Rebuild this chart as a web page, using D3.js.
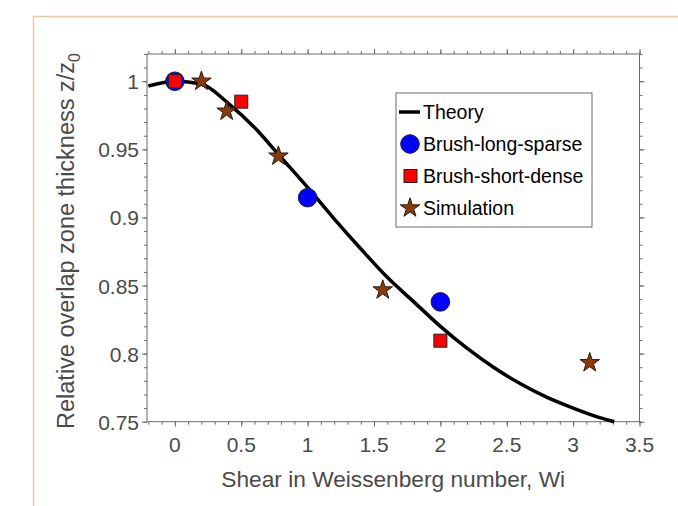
<html>

<head>
    <script src="https://d3js.org/d3.v7.min.js"></script>
    <style>
        body {
            margin: 0;
            background: white;
        }
        text {
            font-family: "Liberation Sans", Arial, Helvetica, sans-serif;
        }
    </style>
</head>

<body>
    <div id="graph-container"></div>

    <script>
        //////////////////////////////////////////DATA//////////////////////////////////////////
        //theory curve
        const theoryWi = [-0.2, 0, 0.2, 0.4, 0.6, 0.8, 1.0, 1.2, 1.4, 1.6, 1.8, 2.0, 2.2, 2.4, 2.6, 2.8, 3.0, 3.2, 3.31];
        const theoryZ = [0.9965, 1.0, 0.998, 0.984, 0.966, 0.944, 0.922, 0.899, 0.877, 0.856, 0.838, 0.820, 0.804, 0.790, 0.778, 0.768, 0.760, 0.753, 0.750];

        const longSparseWi = [0, 1, 2];
        const longSparseZ = [1.0, 0.9145, 0.838];

        const shortDenseWi = [0, 0.5, 2];
        const shortDenseZ = [1.0, 0.985, 0.8095];

        const simWi = [0.2, 0.39, 0.78, 1.566, 3.125];
        const simZ = [1.0, 0.978, 0.945, 0.8467, 0.7933];

        const legendLabels = ["Theory", "Brush-long-sparse", "Brush-short-dense", "Simulation"];

        const xTicks = [0, 0.5, 1, 1.5, 2, 2.5, 3, 3.5];
        const yTicks = [0.75, 0.8, 0.85, 0.9, 0.95, 1];

        //////////////////////////////////////////GRAPH VARIABLES//////////////////////////////////////////
        const width = 678;
        const height = 506;
        const frame = { left: 147, right: 639.5, top: 54, bottom: 421.7 };
        const frameColor = "#6b6b6b";
        const labelColor = "#4a4a4a";

        const svg = d3.select("#graph-container").append("svg")
            .attr("width", width)
            .attr("height", height);

        const x = d3.scaleLinear().domain([-0.21, 3.5]).range([frame.left, frame.right]);
        const y = d3.scaleLinear().domain([0.75, 1.02]).range([frame.bottom, frame.top]);

        //orange border around the figure
        svg.append("path")
            .attr("d", "M33.5," + height + " L33.5,16.5 L" + width + ",16.5")
            .attr("fill", "none")
            .attr("stroke", "#f3c2a6")
            .attr("stroke-width", 1.5);

        //////////////////////////////////////////AXES//////////////////////////////////////////
        const minorX = d3.range(-2, 36).map(d => d / 10).filter(d => x(d) >= frame.left - 0.5);
        const minorY = d3.range(75, 103).map(d => d / 100);

        const axes = [
            { axis: d3.axisBottom(x), pos: "translate(0," + frame.bottom + ")" },
            { axis: d3.axisTop(x), pos: "translate(0," + frame.top + ")" },
            { axis: d3.axisLeft(y), pos: "translate(" + frame.left + ",0)" },
            { axis: d3.axisRight(y), pos: "translate(" + frame.right + ",0)" }
        ];

        axes.forEach((a, i) => {
            const isX = i < 2;
            //minor ticks
            svg.append("g")
                .attr("transform", a.pos)
                .call(a.axis.tickValues(isX ? minorX : minorY).tickSize(3).tickSizeOuter(0).tickFormat(""))
                .call(g => g.select(".domain").remove())
                .selectAll("line").attr("stroke", frameColor);
            //major ticks
            svg.append("g")
                .attr("transform", a.pos)
                .call(a.axis.tickValues(isX ? xTicks : yTicks).tickSize(5).tickSizeOuter(0).tickFormat(""))
                .call(g => g.select(".domain").remove())
                .selectAll("line").attr("stroke", frameColor);
        });

        //frame
        svg.append("rect")
            .attr("x", frame.left)
            .attr("y", frame.top)
            .attr("width", frame.right - frame.left)
            .attr("height", frame.bottom - frame.top)
            .attr("fill", "none")
            .attr("stroke", frameColor)
            .attr("stroke-width", 1);

        //tick labels
        svg.selectAll("text.xtick").data(xTicks)
            .join("text")
            .attr("class", "xtick")
            .attr("x", d => x(d))
            .attr("y", frame.bottom + 30)
            .attr("text-anchor", "middle")
            .attr("fill", labelColor)
            .style("font-size", "21px")
            .text(d => d);

        svg.selectAll("text.ytick").data(yTicks)
            .join("text")
            .attr("class", "ytick")
            .attr("x", frame.left - 8)
            .attr("y", d => y(d) + 8)
            .attr("text-anchor", "end")
            .attr("fill", labelColor)
            .style("font-size", "21px")
            .text(d => d);

        //axis titles
        svg.append("text")
            .attr("x", (frame.left + frame.right) / 2)
            .attr("y", 487)
            .attr("text-anchor", "middle")
            .attr("fill", labelColor)
            .style("font-size", "22.7px")
            .text("Shear in Weissenberg number, Wi");

        const yTitle = svg.append("text")
            .attr("transform", "translate(74," + 241 + ") rotate(-90)")
            .attr("text-anchor", "middle")
            .attr("fill", labelColor)
            .style("font-size", "23.5px");
        yTitle.append("tspan").text("Relative overlap zone thickness z/z");
        yTitle.append("tspan").attr("dy", 6).style("font-size", "16px").text("0");

        //////////////////////////////////////////DATA MARKS//////////////////////////////////////////
        const plot = svg.append("g");

        const theory = theoryWi.map((d, i) => [d, theoryZ[i]]);
        plot.append("path")
            .datum(theory)
            .attr("fill", "none")
            .attr("stroke", "black")
            .attr("stroke-width", 3.5)
            .attr("d", d3.line().x(d => x(d[0])).y(d => y(d[1])).curve(d3.curveMonotoneX));

        const star = d3.symbol().type(d3.symbolStar).size(118);

        plot.selectAll("circle.long").data(longSparseWi)
            .join("circle")
            .attr("class", "long")
            .attr("cx", d => x(d))
            .attr("cy", (d, i) => y(longSparseZ[i]))
            .attr("r", 9.3)
            .attr("fill", "#0000ff")
            .attr("stroke", "#1a1a4a")
            .attr("stroke-width", 1);

        plot.selectAll("rect.short").data(shortDenseWi)
            .join("rect")
            .attr("class", "short")
            .attr("x", d => x(d) - 6.5)
            .attr("y", (d, i) => y(shortDenseZ[i]) - 6.5)
            .attr("width", 13)
            .attr("height", 13)
            .attr("fill", "#ff0000")
            .attr("stroke", "#222")
            .attr("stroke-width", 1);

        plot.selectAll("path.sim").data(simWi)
            .join("path")
            .attr("class", "sim")
            .attr("transform", (d, i) => "translate(" + x(d) + "," + y(simZ[i]) + ")")
            .attr("d", star)
            .attr("fill", "#8b3a0c")
            .attr("stroke", "#2a1a10")
            .attr("stroke-width", 1);

        //////////////////////////////////////////LEGEND//////////////////////////////////////////
        const legend = svg.append("g");
        legend.append("rect")
            .attr("x", 396)
            .attr("y", 93)
            .attr("width", 196)
            .attr("height", 134)
            .attr("fill", "white")
            .attr("stroke", frameColor)
            .attr("stroke-width", 1);

        const rowY = [112, 144, 176, 208];
        legend.selectAll("text").data(legendLabels)
            .join("text")
            .attr("x", 423)
            .attr("y", (d, i) => rowY[i] + 7)
            .attr("fill", "black")
            .style("font-size", "19.5px")
            .text(d => d);

        legend.append("line")
            .attr("x1", 399).attr("x2", 420)
            .attr("y1", rowY[0]).attr("y2", rowY[0])
            .attr("stroke", "black")
            .attr("stroke-width", 3.5);
        legend.append("circle")
            .attr("cx", 410).attr("cy", rowY[1]).attr("r", 9.3)
            .attr("fill", "#0000ff").attr("stroke", "#1a1a4a");
        legend.append("rect")
            .attr("x", 404).attr("y", rowY[2] - 6.5).attr("width", 13).attr("height", 13)
            .attr("fill", "#ff0000").attr("stroke", "#222");
        legend.append("path")
            .attr("transform", "translate(410," + rowY[3] + ")")
            .attr("d", star)
            .attr("fill", "#8b3a0c").attr("stroke", "#2a1a10");
    </script>
</body>

</html>
